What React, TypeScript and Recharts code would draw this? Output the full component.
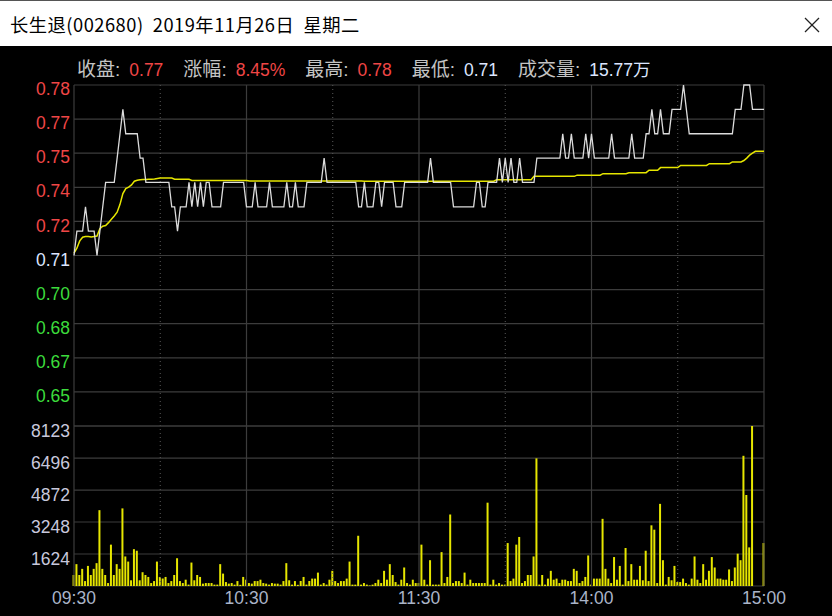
import { BarChart, Bar, CartesianGrid, Line, LineChart, ReferenceLine, XAxis, YAxis } from "recharts"

// 长生退(002680) 2019-11-26 minute chart, 09:30-11:30 + 13:00-15:00 = 241 points
const prevClose = 0.71
const limitPct = 9.86

// last price per minute
const prices = [
  0.71, 0.72, 0.72, 0.72, 0.73, 0.72, 0.72, 0.72, 0.71, 0.72,
  0.73, 0.74, 0.74, 0.74, 0.74, 0.75, 0.76, 0.77, 0.76, 0.76,
  0.76, 0.76, 0.76, 0.75, 0.75, 0.74, 0.74, 0.74, 0.74, 0.74,
  0.74, 0.74, 0.74, 0.74, 0.73, 0.73, 0.72, 0.73, 0.73, 0.73,
  0.74, 0.73, 0.74, 0.73, 0.74, 0.73, 0.74, 0.74, 0.73, 0.73,
  0.73, 0.73, 0.74, 0.74, 0.74, 0.74, 0.74, 0.74, 0.74, 0.74,
  0.73, 0.73, 0.73, 0.74, 0.73, 0.73, 0.73, 0.73, 0.74, 0.73,
  0.73, 0.73, 0.73, 0.73, 0.74, 0.73, 0.73, 0.74, 0.73, 0.73,
  0.73, 0.74, 0.74, 0.74, 0.74, 0.74, 0.74, 0.75, 0.74, 0.74,
  0.74, 0.74, 0.74, 0.74, 0.74, 0.74, 0.74, 0.74, 0.74, 0.73,
  0.73, 0.74, 0.73, 0.73, 0.73, 0.74, 0.74, 0.73, 0.74, 0.74,
  0.74, 0.74, 0.73, 0.73, 0.73, 0.74, 0.74, 0.74, 0.74, 0.74,
  0.74, 0.74, 0.74, 0.74, 0.75, 0.74, 0.74, 0.74, 0.74, 0.74,
  0.74, 0.74, 0.73, 0.73, 0.73, 0.73, 0.73, 0.73, 0.73, 0.73,
  0.74, 0.74, 0.73, 0.73, 0.74, 0.74, 0.74, 0.74, 0.75, 0.74,
  0.75, 0.74, 0.75, 0.74, 0.74, 0.75, 0.74, 0.74, 0.74, 0.74,
  0.74, 0.75, 0.75, 0.75, 0.75, 0.75, 0.75, 0.75, 0.75, 0.75,
  0.76, 0.75, 0.75, 0.76, 0.75, 0.75, 0.75, 0.75, 0.76, 0.75,
  0.76, 0.75, 0.75, 0.75, 0.75, 0.75, 0.75, 0.76, 0.75, 0.75,
  0.75, 0.75, 0.75, 0.75, 0.76, 0.75, 0.75, 0.75, 0.75, 0.76,
  0.76, 0.77, 0.76, 0.76, 0.77, 0.76, 0.76, 0.76, 0.77, 0.77,
  0.77, 0.77, 0.78, 0.77, 0.76, 0.76, 0.76, 0.76, 0.76, 0.76,
  0.76, 0.76, 0.76, 0.76, 0.76, 0.76, 0.76, 0.76, 0.76, 0.76,
  0.77, 0.77, 0.77, 0.78, 0.78, 0.78, 0.77, 0.77, 0.77, 0.77,
  0.77,
]

// average price (yellow)
const avgPrices = [
  0.7110, 0.7130, 0.7160, 0.7175, 0.7178, 0.7178, 0.7176, 0.7178, 0.7180, 0.7210,
  0.7220, 0.7223, 0.7235, 0.7249, 0.7262, 0.7278, 0.7310, 0.7354, 0.7375, 0.7381,
  0.7390, 0.7405, 0.7409, 0.7411, 0.7412, 0.7412, 0.7413, 0.7413, 0.7414, 0.7416,
  0.7418, 0.7418, 0.7418, 0.7418, 0.7418, 0.7413, 0.7413, 0.7413, 0.7413, 0.7413,
  0.7413, 0.7408, 0.7408, 0.7408, 0.7408, 0.7408, 0.7408, 0.7408, 0.7408, 0.7408,
  0.7408, 0.7408, 0.7408, 0.7408, 0.7408, 0.7408, 0.7408, 0.7408, 0.7408, 0.7408,
  0.7408, 0.7406, 0.7406, 0.7406, 0.7406, 0.7406, 0.7406, 0.7406, 0.7406, 0.7406,
  0.7406, 0.7406, 0.7406, 0.7406, 0.7406, 0.7406, 0.7406, 0.7406, 0.7406, 0.7406,
  0.7406, 0.7406, 0.7406, 0.7406, 0.7406, 0.7406, 0.7406, 0.7406, 0.7406, 0.7406,
  0.7406, 0.7406, 0.7406, 0.7406, 0.7406, 0.7406, 0.7406, 0.7406, 0.7406, 0.7406,
  0.7406, 0.7405, 0.7405, 0.7405, 0.7405, 0.7405, 0.7405, 0.7405, 0.7405, 0.7405,
  0.7405, 0.7405, 0.7405, 0.7405, 0.7405, 0.7405, 0.7405, 0.7405, 0.7405, 0.7405,
  0.7405, 0.7405, 0.7405, 0.7405, 0.7405, 0.7405, 0.7405, 0.7405, 0.7405, 0.7405,
  0.7405, 0.7405, 0.7405, 0.7405, 0.7405, 0.7405, 0.7405, 0.7405, 0.7405, 0.7405,
  0.7405, 0.7405, 0.7405, 0.7405, 0.7405, 0.7405, 0.7405, 0.7411, 0.7411, 0.7411,
  0.7411, 0.7411, 0.7411, 0.7411, 0.7411, 0.7411, 0.7411, 0.7411, 0.7411, 0.7411,
  0.7425, 0.7425, 0.7425, 0.7425, 0.7425, 0.7425, 0.7425, 0.7425, 0.7425, 0.7425,
  0.7425, 0.7425, 0.7425, 0.7425, 0.7425, 0.7430, 0.7430, 0.7430, 0.7430, 0.7430,
  0.7430, 0.7430, 0.7430, 0.7430, 0.7436, 0.7436, 0.7436, 0.7436, 0.7436, 0.7436,
  0.7436, 0.7436, 0.7436, 0.7440, 0.7440, 0.7440, 0.7440, 0.7440, 0.7440, 0.7440,
  0.7450, 0.7450, 0.7450, 0.7450, 0.7461, 0.7461, 0.7461, 0.7461, 0.7461, 0.7461,
  0.7461, 0.7470, 0.7470, 0.7470, 0.7470, 0.7470, 0.7470, 0.7470, 0.7470, 0.7470,
  0.7470, 0.7477, 0.7477, 0.7477, 0.7477, 0.7477, 0.7477, 0.7477, 0.7477, 0.7484,
  0.7484, 0.7484, 0.7484, 0.7490, 0.7500, 0.7512, 0.7520, 0.7528, 0.7528, 0.7528,
  0.7528,
]

// volume per minute (hands)
const volumes = [
  560, 1110, 560, 870, 250, 1020, 560, 870, 1160, 3850,
  870, 560, 150, 2100, 560, 1110, 870, 3940, 1500, 1240,
  290, 1870, 1790, 290, 700, 560, 460, 150, 250, 1240,
  460, 380, 460, 150, 250, 560, 1410, 250, 150, 320,
  70, 1190, 290, 560, 460, 120, 150, 150, 150, 70,
  70, 1110, 630, 200, 120, 150, 70, 250, 60, 460,
  320, 150, 120, 250, 250, 320, 150, 120, 70, 150,
  120, 120, 70, 250, 1160, 290, 70, 250, 60, 255,
  460, 70, 255, 375, 375, 680, 70, 150, 70, 320,
  770, 250, 150, 250, 250, 375, 1240, 70, 70, 2550,
  70, 150, 70, 30, 70, 150, 320, 150, 770, 320,
  1110, 560, 200, 70, 320, 940, 150, 70, 320, 150,
  150, 2100, 320, 70, 1310, 70, 70, 70, 1720, 150,
  460, 3630, 150, 250, 250, 150, 680, 70, 320, 150,
  150, 150, 150, 150, 4230, 70, 320, 70, 150, 70,
  70, 2180, 250, 375, 2100, 2490, 150, 250, 560, 560,
  1500, 6480, 70, 560, 70, 375, 770, 320, 375, 150,
  320, 320, 250, 250, 870, 770, 150, 250, 460, 1550,
  70, 375, 375, 375, 3410, 870, 375, 150, 1470, 320,
  1020, 70, 1930, 250, 1110, 320, 320, 1020, 290, 1790,
  250, 3080, 2860, 150, 4170, 1310, 70, 460, 290, 1020,
  200, 200, 375, 150, 70, 375, 1500, 320, 150, 1110,
  320, 770, 1470, 940, 375, 375, 320, 320, 840, 250,
  940, 1640, 1310, 6610, 4620, 1960, 8123, 0, 0, 0,
  2180,
]

const timeTicks = [0, 60, 120, 180, 240]
const timeLabels = ["09:30", "10:30", "11:30", "14:00", "15:00"]
const solidMinutes = [0, 60, 120, 180, 240]
const dottedMinutes = [30, 90, 150, 210]

const pctSteps = [9.86, 7.89, 5.92, 3.94, 1.97, 0, -1.97, -3.94, -5.92, -7.89, -9.86]
const priceLabels = ["0.78", "0.77", "0.75", "0.74", "0.72", "0.71", "0.70", "0.68", "0.67", "0.65", ""]
const pctLabels = ["9.86%", "7.89%", "5.92%", "3.94%", "1.97%", "0.00%", "1.97%", "3.94%", "5.92%", "7.89%", ""]

const volTicks = [0, 1624, 3248, 4872, 6496, 8123]
const volLabels = ["", "1624", "3248", "4872", "6496", "8123"]

const infoItems = [
  { label: "收盘", value: "0.77", up: true },
  { label: "涨幅", value: "8.45%", up: true },
  { label: "最高", value: "0.78", up: true },
  { label: "最低", value: "0.71", up: false },
  { label: "成交量", value: "15.77万", up: false },
]

const title = "长生退(002680)  2019年11月26日  星期二"

const RED = "#f04646"
const GREEN = "#3cdc3c"
const FLAT = "#dce6ff"
const GRID = "#3c3c3c"
const FONT = "'Liberation Sans', Arial, 'Noto Sans CJK SC', sans-serif"

const rows = prices.map((p, i) => ({ t: i, price: p, avg: avgPrices[i], vol: volumes[i] }))
const priceTicks = pctSteps.map((p) => prevClose * (1 + p / 100))
const priceDomain = [prevClose * (1 - limitPct / 100), prevClose * (1 + limitPct / 100)]

const stepIndex = (v: number) => {
  let best = 0
  priceTicks.forEach((t, i) => {
    if (Math.abs(t - v) < Math.abs(priceTicks[best] - v)) best = i
  })
  return best
}
const stepColor = (i: number) => (i < 5 ? RED : i === 5 ? FLAT : GREEN)

function PriceTick(props: any) {
  const { x, y, payload, side } = props
  const i = stepIndex(payload.value)
  return (
    <text
      x={x}
      y={y + 4}
      dy="0.35em"
      textAnchor={side === "left" ? "end" : "start"}
      fill={stepColor(i)}
      fontSize={17.5}
      fontFamily={FONT}
    >
      {side === "left" ? priceLabels[i] : pctLabels[i]}
    </text>
  )
}

function VolTick(props: any) {
  const { x, y, payload } = props
  const i = volTicks.indexOf(payload.value)
  return (
    <text x={x} y={y + 5} dy="0.35em" textAnchor="end" fill="#c8c8dc" fontSize={17.5} fontFamily={FONT}>
      {volLabels[i]}
    </text>
  )
}

function TimeTick(props: any) {
  const { x, y, payload } = props
  const i = timeTicks.indexOf(payload.value)
  return (
    <text x={x} y={y} dy="0.35em" textAnchor="middle" fill="#aab4c8" fontSize={17.5} fontFamily={FONT}>
      {timeLabels[i]}
    </text>
  )
}

function vLines() {
  return [
    ...solidMinutes.map((m) => <ReferenceLine key={"s" + m} x={m} stroke={GRID} strokeWidth={1.2} ifOverflow="extendDomain" />),
    ...dottedMinutes.map((m) => <ReferenceLine key={"d" + m} x={m} stroke="#5a5a5a" strokeDasharray="1 3" />),
  ]
}

export default function App() {
  return (
    <div style={{ position: "absolute", left: 0, top: 0, width: 832, height: 616, background: "#000", overflow: "hidden" }}>
      <div
        style={{
          position: "absolute",
          left: 0,
          top: 0,
          width: 832,
          height: 46,
          background: "#fff",
          borderTop: "1px solid #555",
          boxSizing: "border-box",
        }}
      >
        <div
          style={{
            position: "absolute",
            left: 10,
            top: 10,
            fontSize: 18.3,
            letterSpacing: 0.5,
            lineHeight: "26px",
            color: "#000",
            whiteSpace: "pre",
            fontFamily: "'Noto Sans CJK SC', sans-serif",
          }}
        >
          {title}
        </div>
        <svg style={{ position: "absolute", left: 804, top: 16 }} width={16} height={16}>
          <line x1={1} y1={1} x2={15} y2={15} stroke="#222" strokeWidth={1.2} />
          <line x1={15} y1={1} x2={1} y2={15} stroke="#222" strokeWidth={1.2} />
        </svg>
      </div>

      <div
        style={{
          position: "absolute",
          left: 77,
          top: 56,
          display: "flex",
          gap: 20,
          lineHeight: "28px",
          fontFamily: FONT,
          whiteSpace: "pre",
        }}
      >
        {infoItems.map((it) => (
          <span key={it.label}>
            <span style={{ color: "#c4c4c4", fontSize: 19 }}>{it.label}:</span>
            <span style={{ color: it.up ? RED : FLAT, fontSize: 17.5, marginLeft: 9 }}>{it.value}</span>
          </span>
        ))}
      </div>

      <div style={{ position: "absolute", left: 0, top: 0 }}>
        <LineChart width={832} height={430} data={rows} margin={{ top: 85, right: 0, bottom: 4, left: 0 }}>
          <CartesianGrid vertical={false} stroke={GRID} strokeWidth={1.2} />
          <XAxis dataKey="t" type="number" domain={[0, 240]} hide />
          <YAxis
            domain={priceDomain}
            ticks={priceTicks}
            interval={0}
            width={74}
            axisLine={false}
            tickLine={false}
            tickSize={0}
            tickMargin={4}
            tick={(p: any) => <PriceTick {...p} side="left" />}
          />
          <YAxis
            yAxisId="pct"
            orientation="right"
            domain={priceDomain}
            ticks={priceTicks}
            interval={0}
            width={68}
            axisLine={false}
            tickLine={false}
            tickSize={0}
            tickMargin={4}
            tick={(p: any) => <PriceTick {...p} side="right" />}
          />
          {vLines()}
          <Line type="linear" dataKey="avg" stroke="#e6e600" strokeWidth={1.5} dot={false} isAnimationActive={false} />
          <Line type="linear" dataKey="price" stroke="#dcdcdc" strokeWidth={1.3} dot={false} isAnimationActive={false} />
        </LineChart>
      </div>

      <div style={{ position: "absolute", left: 0, top: 400 }}>
        <BarChart width={832} height={216} data={rows} margin={{ top: 26, right: 68, bottom: 0, left: 0 }}>
          <CartesianGrid vertical={false} stroke={GRID} strokeWidth={1.2} />
          <XAxis
            dataKey="t"
            type="number"
            domain={[0, 240]}
            ticks={timeTicks}
            interval={0}
            height={30}
            axisLine={false}
            tickLine={false}
            tickSize={0}
            tickMargin={12}
            tick={(p: any) => <TimeTick {...p} />}
          />
          <YAxis
            domain={[0, 8123]}
            ticks={volTicks}
            interval={0}
            width={74}
            axisLine={false}
            tickLine={false}
            tickSize={0}
            tickMargin={4}
            tick={(p: any) => <VolTick {...p} />}
          />
          {vLines()}
          <Bar dataKey="vol" fill="#e6e600" barSize={2} isAnimationActive={false} />
        </BarChart>
      </div>
    </div>
  )
}
